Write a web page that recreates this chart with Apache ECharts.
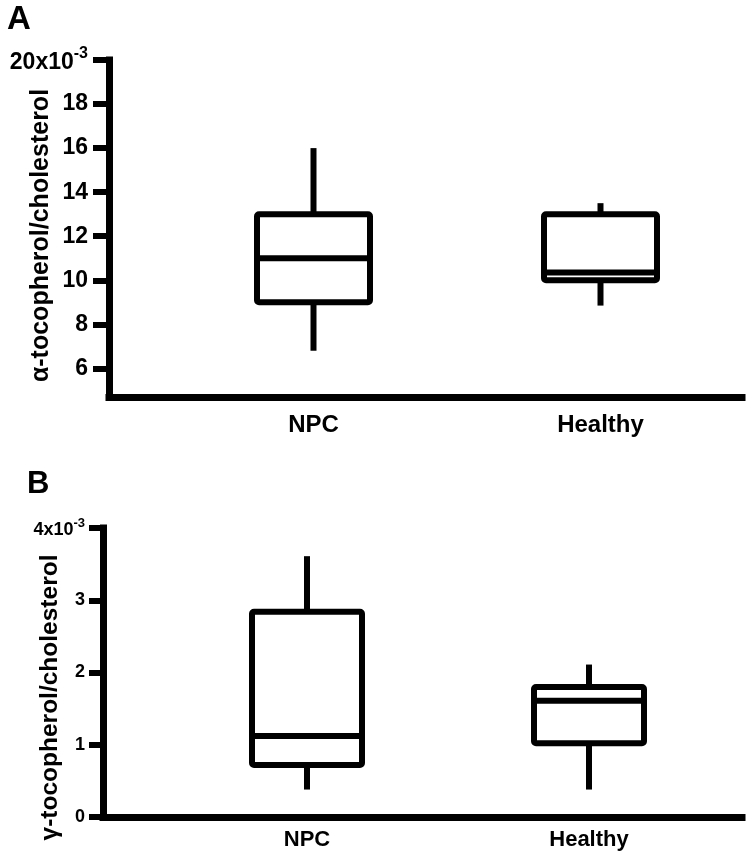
<!DOCTYPE html>
<html>
<head>
<meta charset="utf-8">
<script src="https://cdn.jsdelivr.net/npm/echarts@6/dist/echarts.min.js"></script>
<style>
  html, body { margin: 0; padding: 0; background: #fff; }
  #chart { width: 747px; height: 864px; }
</style>
</head>
<body>
<div id="chart"></div>
<script>
// ---------------- data ----------------
const categories = ['NPC', 'Healthy'];

// Panel A: alpha-tocopherol/cholesterol (x10^-3)
const alphaMin    = [6.8, 8.85];
const alphaQ1     = [9.0, 10.0];
const alphaMedian = [11.0, 10.35];
const alphaQ3     = [13.0, 13.0];
const alphaMax    = [16.0, 13.5];
const alphaTicks  = [6, 8, 10, 12, 14, 16, 18, 20];

// Panel B: gamma-tocopherol/cholesterol (x10^-3)
const gammaMin    = [0.38, 0.38];
const gammaQ1     = [0.72, 1.02];
const gammaMedian = [1.12, 1.61];
const gammaQ3     = [2.84, 1.80];
const gammaMax    = [3.61, 2.11];
const gammaTicks  = [0, 1, 2, 3, 4];

// ---------------- build ----------------
function rows(mn, q1, md, q3, mx) {
  return categories.map((c, i) => [i, mn[i], q1[i], md[i], q3[i], mx[i]]);
}

const FONT = 'Liberation Sans, Arial, Helvetica, sans-serif';
const LW = 6;

function makeRender(boxW) {
  return function (params, api) {
    const x = api.value(0);
    const pMin = api.coord([x, api.value(1)]);
    const pQ1 = api.coord([x, api.value(2)]);
    const pMd = api.coord([x, api.value(3)]);
    const pQ3 = api.coord([x, api.value(4)]);
    const pMax = api.coord([x, api.value(5)]);
    const cx = pMd[0];
    const half = boxW / 2;
    const lineStyle = { stroke: '#000', lineWidth: LW, lineCap: 'butt', fill: null };
    return {
      type: 'group',
      children: [
        { type: 'line', shape: { x1: cx, y1: pMax[1], x2: cx, y2: pQ3[1] }, style: lineStyle },
        { type: 'line', shape: { x1: cx, y1: pQ1[1], x2: cx, y2: pMin[1] }, style: lineStyle },
        { type: 'rect', shape: { x: cx - half, y: pQ3[1], width: boxW, height: pQ1[1] - pQ3[1], r: 2 },
          style: { fill: '#fff', stroke: '#000', lineWidth: LW, lineJoin: 'round' } },
        { type: 'line', shape: { x1: cx - half, y1: pMd[1], x2: cx + half, y2: pMd[1] }, style: lineStyle }
      ]
    };
  };
}

function frameY(min, max, ticks, fontSize, labelMargin, tickLen, supRich, name, nameFont, nameGap, namePad) {
  return {
    type: 'value', min: min, max: max,
    name: name, nameLocation: 'middle', nameGap: nameGap, nameMoveOverlap: false,
    nameTextStyle: { fontFamily: FONT, fontWeight: 'bold', fontSize: nameFont, color: '#000', padding: namePad },
    axisLine: { show: true, lineStyle: { color: '#000', width: 7, cap: 'square' } },
    axisTick: { show: true, customValues: ticks, length: tickLen, lineStyle: { color: '#000', width: 6 } },
    axisLabel: {
      show: true, customValues: ticks, margin: labelMargin,
      fontFamily: FONT, fontWeight: 'bold', fontSize: fontSize, color: '#000',
      formatter: function (v) { return v === max ? '{m|' + v + 'x10}{s|-3}' : String(v); },
      rich: supRich
    },
    splitLine: { show: false }
  };
}

const option = {
  backgroundColor: '#fff',
  animation: false,
  grid: [
    { left: 109, top: 60, width: 633, height: 337, outerBoundsMode: 'none', containLabel: false },   // A frame
    { left: 170, top: 60, width: 574, height: 337, outerBoundsMode: 'none', containLabel: false },   // A boxes
    { left: 103, top: 528, width: 639, height: 289, outerBoundsMode: 'none', containLabel: false },  // B frame
    { left: 166, top: 528, width: 564, height: 289, outerBoundsMode: 'none', containLabel: false }   // B boxes
  ],
  xAxis: [
    { gridIndex: 0, type: 'value', min: 0, max: 1,
      axisLine: { show: true, lineStyle: { color: '#000', width: 7, cap: 'square' } },
      axisTick: { show: false }, axisLabel: { show: false }, splitLine: { show: false } },
    { gridIndex: 1, type: 'category', data: categories,
      axisLine: { show: false }, axisTick: { show: false },
      axisLabel: { margin: 16, fontFamily: FONT, fontWeight: 'bold', fontSize: 24, color: '#000' } },
    { gridIndex: 2, type: 'value', min: 0, max: 1,
      axisLine: { show: true, lineStyle: { color: '#000', width: 7, cap: 'square' } },
      axisTick: { show: false }, axisLabel: { show: false }, splitLine: { show: false } },
    { gridIndex: 3, type: 'category', data: categories,
      axisLine: { show: false }, axisTick: { show: false },
      axisLabel: { margin: 12, fontFamily: FONT, fontWeight: 'bold', fontSize: 22, color: '#000' } }
  ],
  yAxis: [
    Object.assign({ gridIndex: 0 }, frameY(4.7, 20, alphaTicks, 23, 21, 16,
      { m: { fontFamily: FONT, fontWeight: 'bold', fontSize: 23, color: '#000', verticalAlign: 'bottom' },
        s: { fontFamily: FONT, fontWeight: 'bold', fontSize: 16, color: '#000', verticalAlign: 'bottom', padding: [0, 0, 13, 0] } },
      'α-tocopherol/cholesterol', 25, 55, [0, 14, 0, 0])),
    { gridIndex: 1, type: 'value', min: 4.7, max: 20, show: false, splitLine: { show: false } },
    Object.assign({ gridIndex: 2 }, frameY(0, 4, gammaTicks, 18, 18, 14,
      { m: { fontFamily: FONT, fontWeight: 'bold', fontSize: 18, color: '#000', verticalAlign: 'bottom' },
        s: { fontFamily: FONT, fontWeight: 'bold', fontSize: 13, color: '#000', verticalAlign: 'bottom', padding: [0, 0, 10, 0] } },
      'γ-tocopherol/cholesterol', 24.5, 40, [0, 50, 0, 0])),
    { gridIndex: 3, type: 'value', min: 0, max: 4, show: false, splitLine: { show: false } }
  ],
  series: [
    { type: 'custom', xAxisIndex: 1, yAxisIndex: 1, renderItem: makeRender(113),
      encode: { x: 0, y: [1, 2, 3, 4, 5] },
      data: rows(alphaMin, alphaQ1, alphaMedian, alphaQ3, alphaMax) },
    { type: 'custom', xAxisIndex: 3, yAxisIndex: 3, renderItem: makeRender(110),
      encode: { x: 0, y: [1, 2, 3, 4, 5] },
      data: rows(gammaMin, gammaQ1, gammaMedian, gammaQ3, gammaMax) }
  ],
  graphic: [
    { type: 'text', left: 7, top: 3, style: { text: 'A', fontFamily: FONT, fontWeight: 'bold', fontSize: 33, fill: '#000' } },
    { type: 'text', left: 27, top: 469, style: { text: 'B', fontFamily: FONT, fontWeight: 'bold', fontSize: 31, fill: '#000' } }
  ]
};

const chart = echarts.init(document.getElementById('chart'), null, { renderer: 'canvas' });
chart.setOption(option);
</script>
</body>
</html>
